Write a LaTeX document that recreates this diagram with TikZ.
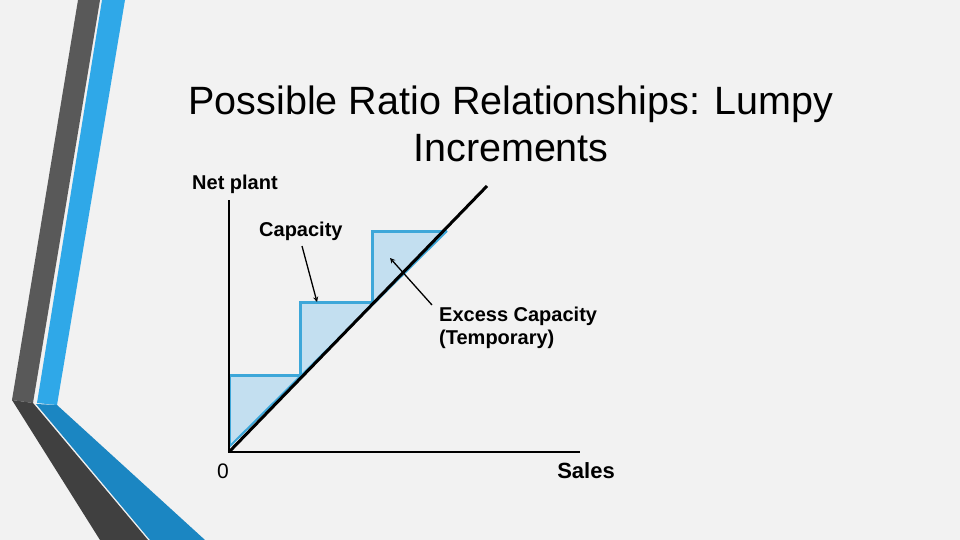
\documentclass[tikz,border=0pt]{standalone}
\usepackage{fontspec}
\setmainfont{Liberation Sans}
\begin{document}
\begin{tikzpicture}[x=1pt,y=-1pt,
  lbl/.style={font=\fontsize{20}{23}\selectfont\bfseries,inner sep=0pt},
  ax/.style={line width=2.5pt,black}]
\definecolor{bgc}{HTML}{F2F2F2}
\definecolor{gband}{HTML}{595959}
\definecolor{gband2}{HTML}{404040}
\definecolor{bband}{HTML}{2FA8E8}
\definecolor{bband2}{HTML}{1B86C2}
\definecolor{stepfill}{HTML}{C3DFF0}
\definecolor{stepline}{HTML}{3DA7D9}
\fill[bgc] (0,0) rectangle (960,540);
\useasboundingbox (0,0) rectangle (960,540);
% decoration
\fill[gband] (78,0) -- (100,0) -- (33,403) -- (12,400) -- cycle;
\fill[bband] (102,0) -- (125,0) -- (57,405) -- (37,403) -- cycle;
\fill[gband2] (12,400) -- (33,403) -- (148,540) -- (100,540) -- cycle;
\fill[bband2] (36,404) -- (57,405) -- (205,540) -- (150,540) -- cycle;
% steps
\fill[stepfill] (229,445) -- (229,375) -- (304,375) -- cycle;
\fill[stepfill] (300,375) -- (300,302) -- (374,302) -- (302,375) -- cycle;
\fill[stepfill] (372,302) -- (372,231) -- (447,231) -- (374,302) -- cycle;
\draw[stepline,line width=3pt] (229,445) -- (229,375) -- (300,375) -- (300,302) -- (372,302) -- (372,231) -- (447,231);
\draw[stepline,line width=2pt] (229,447) -- (447,231);
% axes
\coordinate (o) at (229,452);
\coordinate (ytop) at (229,200);
\coordinate (xend) at (580,452);
\coordinate (dend) at (487,186);
\draw[ax] (ytop) -- (o) -- (xend);
\draw[line width=3pt,black] (o) -- (dend);
% texts
\node[font=\fontsize{39.5}{47}\selectfont,align=center] (title) at (511,124) {Possible Ratio Relationships: Lumpy\\Increments};
\node[lbl,anchor=west] (np) at (192,184) {Net plant};
\node[lbl,anchor=west] (cap) at (259,231) {Capacity};
\node[lbl,anchor=west,align=left] (exc) at (439,328) {Excess Capacity\\(Temporary)};
\node[font=\fontsize{21}{24}\selectfont,inner sep=0pt] (zero) at (223,471) {0};
\node[font=\fontsize{22}{26}\selectfont\bfseries,inner sep=0pt] (sales) at (586,471) {Sales};
\coordinate (capa) at (317,302);
\coordinate (exca) at (390,258);
\draw[-stealth,line width=1.3pt] (302,246) -- (capa);
\draw[-stealth,line width=1.3pt] (432,305) -- (exca);
\end{tikzpicture}
\end{document}
